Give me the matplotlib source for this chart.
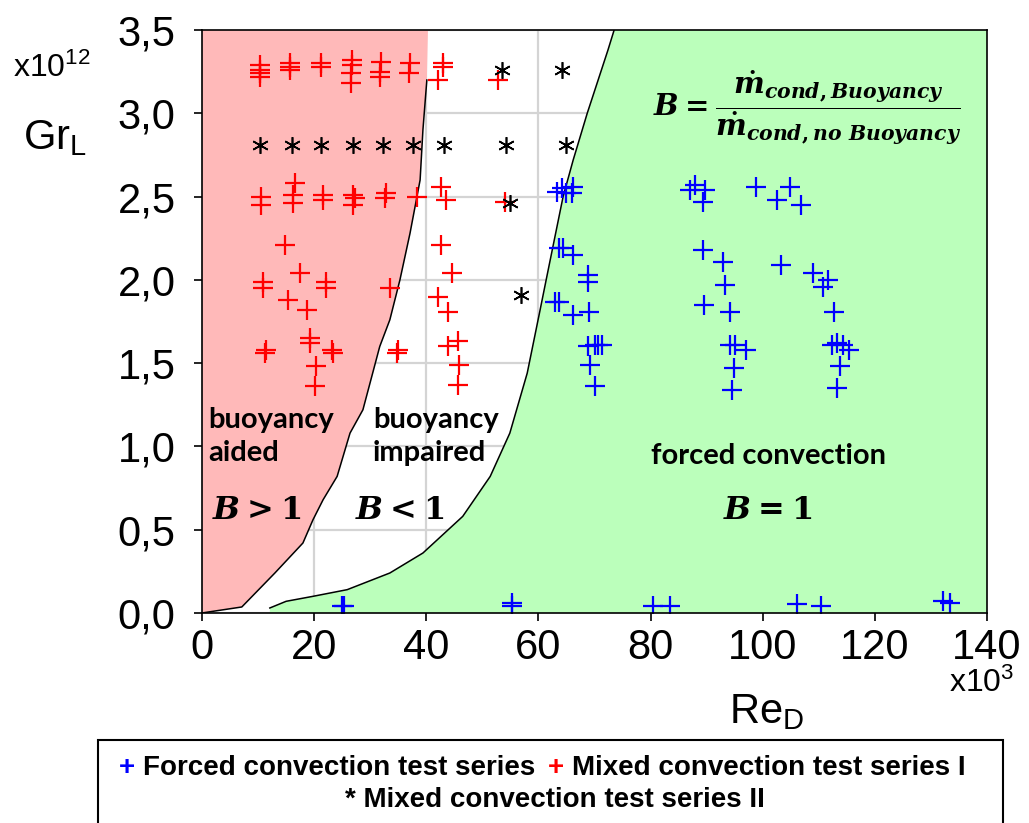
import numpy as np
import matplotlib
matplotlib.use("Agg")
import matplotlib.pyplot as plt
from matplotlib.patches import Rectangle

# ---------------------------------------------------------------- fonts
plt.rcParams['font.family'] = ['Liberation Sans', 'DejaVu Sans']
plt.rcParams['mathtext.fontset'] = 'custom'
plt.rcParams['mathtext.rm'] = 'DejaVu Serif:bold'
plt.rcParams['mathtext.it'] = 'DejaVu Serif:italic:bold'
plt.rcParams['mathtext.bf'] = 'DejaVu Serif:bold'
plt.rcParams['mathtext.sf'] = 'Liberation Sans'

# ---------------------------------------------------------------- data
# Reynolds number (x1e3) and Grashof number (x1e12)
re_forced = [24.9, 25.4, 55.2, 55.3, 80.5, 83.5, 106.1, 110.4, 132.1, 133.4,
             63.3, 64.2, 65.0, 66.2, 65.9, 63.7, 64.3, 66.1, 68.9, 68.9,
             63.0, 63.6, 66.1, 69.1, 68.9, 70.1, 70.7, 71.3, 69.2, 70.1,
             87.0, 87.9, 89.7, 89.4, 98.8, 104.9, 102.5, 106.8,
             89.3, 92.9, 103.2, 93.3, 108.9, 111.6, 110.7, 89.5, 94.2, 112.7,
             94.2, 95.0, 97.1, 94.9, 94.6,
             112.3, 113.2, 114.3, 115.3, 113.8, 113.2]
gr_forced = [0.04, 0.04, 0.04, 0.06, 0.04, 0.04, 0.055, 0.04, 0.07, 0.06,
             2.53, 2.55, 2.52, 2.56, 2.52, 2.19, 2.19, 2.15, 2.03, 1.99,
             1.87, 1.87, 1.79, 1.81, 1.60, 1.61, 1.61, 1.61, 1.49, 1.36,
             2.54, 2.57, 2.54, 2.47, 2.56, 2.56, 2.48, 2.45,
             2.18, 2.11, 2.09, 1.97, 2.04, 2.00, 1.96, 1.85, 1.81, 1.81,
             1.61, 1.61, 1.58, 1.47, 1.34,
             1.61, 1.62, 1.61, 1.58, 1.48, 1.35]

re_mixed1 = [10.3, 10.3, 10.3, 10.3, 15.7, 15.7, 15.7, 21.3, 21.3,
             26.7, 26.7, 26.5, 26.5, 32.0, 31.8, 31.8, 37.1, 36.9,
             43.0, 43.0, 42.1, 52.8,
             10.6, 10.6, 16.5, 16.3, 16.3, 21.6, 21.6, 27.0, 27.2, 27.0,
             32.9, 32.7, 38.3, 42.7, 43.6, 54.0,
             14.8, 17.5, 10.9, 10.9, 22.2, 22.2, 33.5, 15.3, 18.7,
             42.7, 44.5, 42.1, 43.9,
             11.5, 11.3, 19.3, 19.3, 23.1, 23.3, 20.3, 20.2, 35.0, 34.7,
             43.9, 45.7, 45.9, 45.7]
gr_mixed1 = [3.29, 3.26, 3.24, 3.22, 3.30, 3.28, 3.26, 3.30, 3.28,
             3.32, 3.29, 3.24, 3.18, 3.31, 3.25, 3.22, 3.30, 3.24,
             3.30, 3.28, 3.20, 3.20,
             2.50, 2.45, 2.58, 2.51, 2.46, 2.51, 2.48, 2.51, 2.49, 2.45,
             2.52, 2.49, 2.50, 2.56, 2.48, 2.47,
             2.21, 2.04, 1.99, 1.95, 1.99, 1.95, 1.95, 1.88, 1.82,
             2.21, 2.04, 1.90, 1.81,
             1.58, 1.56, 1.65, 1.62, 1.58, 1.56, 1.48, 1.36, 1.58, 1.56,
             1.60, 1.63, 1.49, 1.37]

re_mixed2 = [53.5, 64.2, 10.3, 16.0, 21.3, 26.9, 32.2, 37.7, 43.2, 54.2, 65.0,
             54.9, 56.9]
gr_mixed2 = [3.26, 3.26, 2.81, 2.81, 2.81, 2.81, 2.81, 2.81, 2.81, 2.81, 2.81,
             2.46, 1.91]

# region borders
re_aided = [0, 7.1, 13.0, 18.0, 19.8, 21.6, 24.1, 26.4, 28.7, 31.7, 33.5,
            35.3, 37.1, 38.9, 39.4, 40.1]
gr_aided = [0, 0.036, 0.24, 0.42, 0.56, 0.68, 0.82, 1.08, 1.22, 1.60, 1.76,
            2.00, 2.28, 2.60, 2.90, 3.20]

re_forced_border = [12.1, 12.1, 15.0, 19.8, 25.9, 33.5, 39.4, 46.5, 51.4,
                    54.9, 58.0, 60.3, 61.5, 64.4, 66.2, 68.7, 72.4, 73.5]
gr_forced_border = [0, 0.03, 0.07, 0.10, 0.14, 0.24, 0.36, 0.58, 0.82,
                    1.08, 1.44, 1.82, 2.02, 2.50, 2.72, 3.00, 3.38, 3.50]

x_ticks = [0, 20, 40, 60, 80, 100, 120, 140]
y_ticks = [0.0, 0.5, 1.0, 1.5, 2.0, 2.5, 3.0, 3.5]

# ---------------------------------------------------------------- plot
fig = plt.figure(figsize=(10.29, 8.23), dpi=100)
ax = fig.add_axes([0.1963, 0.2552, 0.7629, 0.7083])

ax.set_xlim(0, 140)
ax.set_ylim(0, 3.5)
ax.grid(True, color='#d4d4d4', lw=1.6, zorder=0)
ax.set_axisbelow(True)

# buoyancy aided region
ax.fill(re_aided + [40.3, 0], gr_aided + [3.5, 3.5],
        color='#ffb9b9', lw=0, zorder=1)
ax.plot(re_aided, gr_aided, color='black', lw=1.1, zorder=2)

# forced convection region
ax.fill(re_forced_border + [140, 140], gr_forced_border + [3.5, 0],
        color='#bbffbb', lw=0, zorder=1)
ax.plot(re_forced_border[1:], gr_forced_border[1:], color='black', lw=1.1, zorder=2)

ax.plot(re_forced, gr_forced, ls='none', marker='+', ms=14, mew=1.6,
        color='#0000ff', zorder=3)
ax.plot(re_mixed1, gr_mixed1, ls='none', marker='+', ms=14, mew=1.6,
        color='#ff0000', zorder=3)
ax.plot(re_mixed2, gr_mixed2, ls='none', marker=(6, 2, 0), ms=12, mew=1.2,
        color='black', zorder=3)

ax.set_xticks(x_ticks)
ax.set_xticklabels([str(t) for t in x_ticks])
ax.set_yticks(y_ticks)
ax.set_yticklabels([('%.1f' % t).replace('.', ',') for t in y_ticks])
ax.tick_params(direction='out', length=6, width=1.2, labelsize=30)
ax.tick_params(axis='y', pad=13)
ax.tick_params(axis='x', pad=5)
for s in ax.spines.values():
    s.set_linewidth(1.2)
    s.set_zorder(4)

# ---------------------------------------------------------------- region labels
lab = dict(family=['Lato', 'DejaVu Sans'], fontweight='bold', fontsize=21,
           color='black', zorder=5)
ax.text(1.1, 1.06, 'buoyancy\naided', ha='left', va='center',
        linespacing=1.3, **lab)
ax.text(30.5, 1.06, 'buoyancy\nimpaired', ha='left', va='center',
        linespacing=1.3, **lab)
ax.text(101.0, 0.94, 'forced convection', ha='center', va='center', **lab)

ax.text(9.7, 0.61, r'$B>1$', ha='center', va='center', fontsize=23, zorder=5)
ax.text(35.3, 0.61, r'$B<1$', ha='center', va='center', fontsize=23, zorder=5)
ax.text(100.8, 0.61, r'$B=1$', ha='center', va='center', fontsize=23, zorder=5)

ax.text(107.9, 3.03,
        r'$B=\dfrac{\dot{m}_{cond,Buoyancy}}{\dot{m}_{cond,no\ Buoyancy}}$',
        ha='center', va='center', fontsize=21, zorder=5)

# ---------------------------------------------------------------- axis labels
fig.text(13 / 1029, 1 - 68 / 823, r'x10$^{\mathsf{12}}$', fontsize=23,
         ha='left', va='center')
fig.text(23 / 1029, 1 - 138 / 823, r'Gr$_{\mathsf{L}}$', fontsize=30,
         ha='left', va='center')
fig.text(767 / 1029, 1 - 712 / 823, r'Re$_{\mathsf{D}}$', fontsize=30,
         ha='center', va='center')
fig.text(949 / 1029, 1 - 683 / 823, r'x10$^{\mathsf{3}}$', fontsize=23,
         ha='left', va='center')

# ---------------------------------------------------------------- legend box
fig.patches.append(Rectangle((98 / 1029, -0.02), 905 / 1029, 0.02 + 83 / 823,
                             transform=fig.transFigure, fill=False,
                             edgecolor='black', lw=1.5))
leg = dict(family=['Liberation Sans Narrow', 'Liberation Sans'],
           fontweight='bold', fontsize=20, va='center', ha='left')
y1 = 1 - 768 / 823
y2 = 1 - 800 / 823
fig.text(119 / 1029, y1, '+', color='#0000ff', **leg)
fig.text(143 / 1029, y1, 'Forced convection test series', **leg)
fig.text(548 / 1029, y1, '+', color='#ff0000', **leg)
fig.text(572 / 1029, y1, 'Mixed convection test series I', **leg)
fig.text(345 / 1029, y2, '* Mixed convection test series II', **leg)

fig.savefig('out.png', dpi=100)
